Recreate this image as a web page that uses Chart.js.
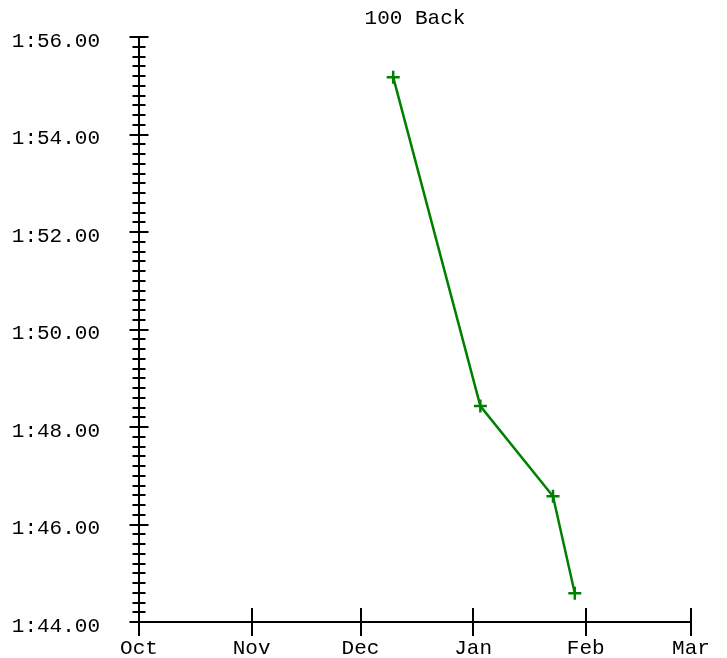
<!DOCTYPE html>
<html>
<head>
<meta charset="utf-8">
<script src="https://cdn.jsdelivr.net/npm/chart.js@4"></script>
<style>
  body { margin: 0; padding: 0; background: #fff; }
  canvas { display: block; }
</style>
</head>
<body>
<canvas id="swim-chart" width="727" height="658"></canvas>
<script>
// data
var chartTitle = '100 Back';
var swimDates = ['2019-12-10', '2020-01-03', '2020-01-23', '2020-01-29'];
var swimTimes = [115.18, 108.43, 106.58, 104.59]; // seconds
var monthStarts = ['2019-10-01', '2019-11-01', '2019-12-01', '2020-01-01', '2020-02-01', '2020-03-01'];
var monthLabels = ['Oct', 'Nov', 'Dec', 'Jan', 'Feb', 'Mar'];
var timeMin = 104; // 1:44.00
var timeMax = 116; // 1:56.00
var minorStep = 0.2;
var majorStep = 2;

var FONT = "'Liberation Mono', 'Courier New', monospace";
var DAY = 86400000;
var origin = Date.parse(monthStarts[0]);

function dayOffset(d) {
  return (Date.parse(d) - origin) / DAY;
}

var monthOffsets = monthStarts.map(dayOffset);

function fmtTime(sec) {
  var m = Math.floor(sec / 60);
  var s = sec - m * 60;
  var str = s.toFixed(2);
  if (s < 10) str = '0' + str;
  return m + ':' + str;
}

function isMajor(v) {
  return Math.abs(v / majorStep - Math.round(v / majorStep)) < 1e-6;
}

var points = swimDates.map(function (d, i) {
  return { x: dayOffset(d), y: swimTimes[i] };
});

// axis tick marks that cross the axis line (chart.js only draws them outside)
var crossTicks = {
  id: 'crossTicks',
  afterDraw: function (chart) {
    var ctx = chart.ctx;
    var area = chart.chartArea;
    var xs = chart.scales.x;
    var ys = chart.scales.y;
    ctx.save();
    ctx.strokeStyle = '#000';
    ctx.lineWidth = 2;
    ctx.beginPath();
    ys.ticks.forEach(function (t) {
      var py = Math.round(ys.getPixelForValue(t.value));
      var half = isMajor(t.value) ? 9.5 : 6.5;
      ctx.moveTo(area.left - half, py);
      ctx.lineTo(area.left + half, py);
    });
    xs.ticks.forEach(function (t) {
      var px = Math.round(xs.getPixelForValue(t.value));
      ctx.moveTo(px, area.bottom - 14);
      ctx.lineTo(px, area.bottom + 14);
    });
    ctx.stroke();
    ctx.restore();
  }
};

new Chart(document.getElementById('swim-chart').getContext('2d'), {
  type: 'line',
  data: {
    datasets: [{
      data: points,
      borderColor: '#008000',
      backgroundColor: '#008000',
      borderWidth: 2.5,
      tension: 0,
      pointStyle: 'cross',
      pointRadius: 6.5,
      pointBorderWidth: 2.5,
      pointHoverRadius: 6.5
    }]
  },
  options: {
    responsive: false,
    animation: false,
    events: [],
    layout: { padding: { left: 0, right: 36, top: 0, bottom: 0 } },
    plugins: {
      legend: { display: false },
      tooltip: { enabled: false },
      title: {
        display: true,
        fullSize: false,
        text: chartTitle,
        color: '#000',
        font: { family: FONT, size: 21, weight: 'normal', lineHeight: 1.2 },
        padding: { top: 6, bottom: 6 }
      }
    },
    scales: {
      x: {
        type: 'linear',
        min: monthOffsets[0],
        max: monthOffsets[monthOffsets.length - 1],
        grid: { display: false, drawTicks: false },
        border: { display: true, color: '#000', width: 2 },
        afterBuildTicks: function (scale) {
          scale.ticks = monthOffsets.map(function (v) { return { value: v }; });
        },
        afterFit: function (scale) {
          scale.height = 36;
          scale.paddingLeft = 0;
          scale.paddingRight = 0;
        },
        ticks: {
          autoSkip: false,
          maxRotation: 0,
          padding: 14,
          color: '#000',
          font: { family: FONT, size: 21 },
          callback: function (v) {
            var i = monthOffsets.indexOf(v);
            return i >= 0 ? monthLabels[i] : '';
          }
        }
      },
      y: {
        type: 'linear',
        min: timeMin,
        max: timeMax,
        grid: { display: false, drawTicks: false },
        border: { display: true, color: '#000', width: 2 },
        afterFit: function (scale) {
          scale.width = 139;
          scale.paddingTop = 0;
          scale.paddingBottom = 0;
        },
        ticks: {
          stepSize: minorStep,
          autoSkip: false,
          padding: 39,
          labelOffset: 4,
          color: '#000',
          font: { family: FONT, size: 21 },
          callback: function (v) {
            return isMajor(v) ? fmtTime(v) : '';
          }
        }
      }
    }
  },
  plugins: [crossTicks]
});
</script>
</body>
</html>
